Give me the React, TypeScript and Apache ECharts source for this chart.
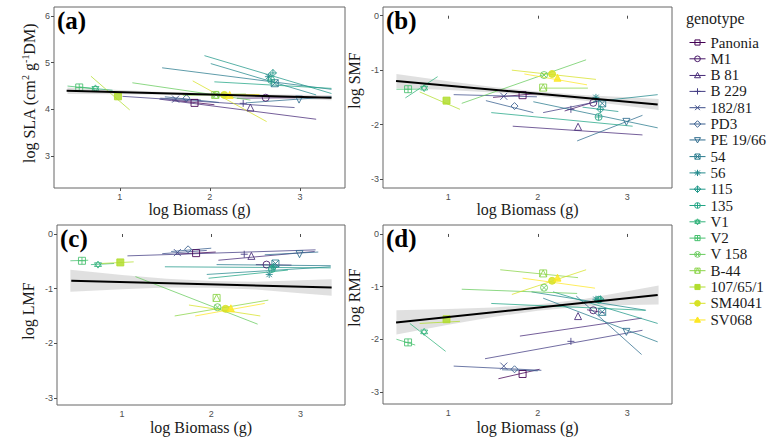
import React, { useEffect, useRef } from "react";
import * as echarts from "echarts";

// ---------- data ----------
const genotypes = ["Panonia", "M1", "B 81", "B 229", "182/81", "PD3", "PE 19/66", "54", "56", "115", "135", "V1", "V2", "V 158", "B-44", "107/65/1", "SM4041", "SV068"];
const biomassMean = [1.83, 2.62, 2.45, 2.37, 1.62, 1.74, 2.99, 2.72, 2.65, 2.7, 2.68, 0.73, 0.55, 2.07, 2.06, 0.98, 2.16, 2.22];

const slaMean = [4.14, 4.25, 4.04, 4.13, 4.22, 4.24, 4.21, 4.56, 4.7, 4.78, 4.63, 4.45, 4.47, 4.31, 4.31, 4.28, 4.31, 4.31];
const smfMean = [-1.46, -1.6, -2.04, -1.72, -1.48, -1.66, -1.95, -1.61, -1.5, -1.72, -1.86, -1.33, -1.35, -1.09, -1.32, -1.56, -1.07, -1.14];
const lmfMean = [-0.35, -0.56, -0.4, -0.37, -0.34, -0.28, -0.37, -0.54, -0.74, -0.6, -0.64, -0.56, -0.49, -1.34, -1.17, -0.52, -1.37, -1.36];
const rmfMean = [-2.66, -1.45, -1.56, -2.04, -2.51, -2.57, -1.86, -1.48, -1.24, -1.24, -1.25, -1.86, -2.06, -1.02, -0.75, -1.62, -0.89, -0.83];

// within-genotype fits: [x1, y1, x2, y2]
const slaSeg = [
  [1.58, 4.2, 2.05, 4.1], [2.3, 4.24, 2.95, 4.25], [1.44, 4.22, 3.18, 3.79], [1.03, 4.28, 2.94, 4.04],
  [1.45, 4.24, 1.9, 4.2], [1.5, 4.27, 2.1, 4.15], [2.4, 4.14, 3.35, 4.27], [1.47, 4.89, 3.35, 4.43],
  [2.01, 4.98, 3.18, 4.31], [1.94, 5.15, 3.35, 4.34], [2.05, 4.59, 3.35, 4.45], [0.55, 4.48, 0.92, 4.41],
  [0.42, 4.5, 0.72, 4.44], [1.14, 4.57, 2.45, 4.2], [1.7, 4.3, 2.4, 4.33], [0.68, 4.71, 1.11, 3.99],
  [1.81, 4.61, 2.63, 3.74], [2.0, 4.31, 2.55, 4.32],
];
const smfSeg = [
  [1.5, -1.5, 2.0, -1.43], [2.3, -1.75, 2.7, -1.55], [1.72, -2.03, 3.17, -2.19], [2.06, -1.78, 2.66, -1.58],
  [1.06, -1.45, 1.99, -1.49], [1.42, -1.56, 1.95, -1.78], [2.44, -2.3, 3.17, -1.83], [1.95, -1.58, 3.34, -2.06],
  [2.62, -1.58, 3.34, -1.45], [2.5, -1.68, 2.9, -1.76], [1.48, -1.78, 3.06, -2.03], [0.52, -1.51, 0.88, -1.12],
  [0.42, -1.35, 0.68, -1.35], [1.15, -1.61, 2.54, -0.81], [2.02, -1.33, 2.56, -1.33], [0.68, -1.4, 1.13, -1.72],
  [1.71, -1.0, 2.65, -1.17], [1.85, -1.07, 2.55, -1.27],
];
const lmfSeg = [
  [1.6, -0.37, 2.05, -0.33], [2.5, -0.56, 2.9, -0.57], [2.08, -0.48, 3.16, -0.32], [1.06, -0.4, 3.17, -0.29],
  [1.45, -0.36, 1.95, -0.3], [1.55, -0.32, 2.0, -0.26], [2.6, -0.38, 3.2, -0.33], [2.06, -0.56, 3.34, -0.58],
  [1.95, -0.74, 3.34, -0.6], [1.48, -0.6, 3.34, -0.62], [1.97, -0.81, 2.86, -0.66], [0.65, -0.56, 0.91, -0.54],
  [0.42, -0.49, 0.62, -0.48], [1.15, -0.78, 2.52, -1.65], [1.59, -1.5, 2.64, -1.21], [0.76, -0.54, 1.13, -0.51],
  [1.75, -1.3, 2.55, -1.5], [1.82, -1.5, 2.6, -1.27],
];
const rmfSeg = [
  [1.56, -2.75, 2.02, -2.57], [2.55, -1.44, 2.75, -1.5], [1.8, -1.94, 3.16, -1.6], [1.41, -2.37, 3.17, -1.83],
  [1.06, -2.51, 2.04, -2.59], [1.6, -2.58, 2.0, -2.6], [2.43, -1.18, 3.16, -2.29], [2.06, -1.22, 3.34, -2.05],
  [1.93, -1.1, 3.21, -1.45], [2.17, -1.1, 3.34, -1.7], [1.48, -1.32, 3.2, -1.45], [0.57, -1.7, 0.97, -2.23],
  [0.42, -2.0, 0.63, -2.11], [1.15, -1.05, 2.44, -1.13], [1.58, -0.68, 2.45, -0.83], [0.68, -1.7, 1.13, -1.66],
  [1.71, -1.15, 2.54, -0.68], [1.83, -0.84, 2.64, -1.03],
];

// overall fits and confidence bands
const slaFit = [[0.41, 4.4], [3.35, 4.25]];
const smfFit = [[0.416, -1.2], [3.34, -1.63]];
const lmfFit = [[0.43, -0.855], [3.35, -0.98]];
const rmfFit = [[0.416, -1.68], [3.34, -1.16]];

const bandX = [0.42, 1.0, 1.5, 2.0, 2.5, 3.0, 3.35];
const slaLo = [4.33, 4.325, 4.314, 4.294, 4.263, 4.223, 4.195];
const slaHi = [4.47, 4.415, 4.374, 4.344, 4.323, 4.313, 4.305];
const smfLo = [-1.33, -1.366, -1.409, -1.473, -1.556, -1.66, -1.731];
const smfHi = [-1.07, -1.206, -1.309, -1.393, -1.456, -1.5, -1.531];
const lmfLo = [-1.055, -1.009, -0.981, -0.982, -1.014, -1.085, -1.13];
const lmfHi = [-0.655, -0.749, -0.821, -0.862, -0.874, -0.845, -0.83];
const rmfLo = [-1.91, -1.726, -1.577, -1.458, -1.379, -1.35, -1.338];
const rmfHi = [-1.45, -1.426, -1.397, -1.338, -1.239, -1.09, -0.978];

const xTicks = [1, 2, 3];
const slaTicks = [3, 4, 5, 6];
const fracTicks = [-3, -2, -1, 0];

// ---------- style helpers ----------
const SERIF = "'Liberation Serif', 'Times New Roman', serif";
const SANS = "'Liberation Sans', Arial, sans-serif";

const viridisStops = ["#440154", "#482475", "#414487", "#355f8d", "#2a788e", "#21918c", "#22a884", "#44bf70", "#7ad151", "#bddf26", "#fde725"];
function hexToRgb(h: string) {
  return [parseInt(h.slice(1, 3), 16), parseInt(h.slice(3, 5), 16), parseInt(h.slice(5, 7), 16)];
}
function viridis(t: number) {
  const s = t * (viridisStops.length - 1);
  const i = Math.min(Math.floor(s), viridisStops.length - 2);
  const f = s - i;
  const a = hexToRgb(viridisStops[i]);
  const b = hexToRgb(viridisStops[i + 1]);
  const c = a.map((v, k) => Math.round(v + (b[k] - v) * f));
  return `rgb(${c[0]},${c[1]},${c[2]})`;
}
const colors = genotypes.map((_, i) => viridis(i / (genotypes.length - 1)));

function shapePath(k: number, cx: number, cy: number, r: number) {
  const p = (x: number, y: number) => `${(cx + x * r).toFixed(2)} ${(cy + y * r).toFixed(2)}`;
  const sq = `M${p(-0.9, -0.9)}L${p(0.9, -0.9)}L${p(0.9, 0.9)}L${p(-0.9, 0.9)}Z`;
  const ci = `M${p(1, 0)}A${r} ${r} 0 1 1 ${p(-1, 0)}A${r} ${r} 0 1 1 ${p(1, 0)}Z`;
  const tri = `M${p(0, -1.05)}L${p(1.05, 0.8)}L${p(-1.05, 0.8)}Z`;
  const trd = `M${p(0, 1.05)}L${p(1.05, -0.8)}L${p(-1.05, -0.8)}Z`;
  const plus = `M${p(0, -1.1)}L${p(0, 1.1)}M${p(-1.1, 0)}L${p(1.1, 0)}`;
  const plusIn = `M${p(0, -0.9)}L${p(0, 0.9)}M${p(-0.9, 0)}L${p(0.9, 0)}`;
  const cross = `M${p(-0.85, -0.85)}L${p(0.85, 0.85)}M${p(0.85, -0.85)}L${p(-0.85, 0.85)}`;
  const crossIn = `M${p(-0.7, -0.7)}L${p(0.7, 0.7)}M${p(0.7, -0.7)}L${p(-0.7, 0.7)}`;
  const sqCross = `M${p(-0.9, -0.9)}L${p(0.9, 0.9)}M${p(0.9, -0.9)}L${p(-0.9, 0.9)}`;
  const dia = `M${p(0, -1.15)}L${p(1.15, 0)}L${p(0, 1.15)}L${p(-1.15, 0)}Z`;
  const diaPlus = `M${p(0, -1.15)}L${p(0, 1.15)}M${p(-1.15, 0)}L${p(1.15, 0)}`;
  const star = `M${p(0, -1.05)}L${p(0.95, 0.55)}L${p(-0.95, 0.55)}ZM${p(0, 1.05)}L${p(0.95, -0.55)}L${p(-0.95, -0.55)}Z`;
  const sqTri = `M${p(-0.9, 0.9)}L${p(0, -0.9)}L${p(0.9, 0.9)}`;
  const list = [
    sq, ci, tri, plus, cross, dia, trd, sq + sqCross, plus + cross, dia + diaPlus,
    ci + plusIn, star, sq + plusIn, ci + crossIn, sq + sqTri, sq, ci, tri,
  ];
  return list[k];
}
const isFilled = (k: number) => k >= 15;

// ---------- chart ----------
export default function App() {
  const ref = useRef<HTMLDivElement>(null);

  useEffect(() => {
    if (!ref.current) return;
    const chart = echarts.init(ref.current, undefined, { renderer: "svg" });

    const panels = [
      { label: "(a)", grid: { left: 54, top: 7, width: 291, height: 181 }, yMin: 2.32, yMax: 6.19, yTicks: slaTicks,
        yName: "log SLA (cm{sup|2} g{sup|-1}DM)", mean: slaMean, seg: slaSeg, fit: slaFit, lo: slaLo, hi: slaHi,
        nameGap: 16, namePad: 8, xNameGap: 13 },
      { label: "(b)", grid: { left: 383, top: 7, width: 289, height: 181 }, yMin: -3.165, yMax: 0.16, yTicks: fracTicks,
        yName: "log SMF", mean: smfMean, seg: smfSeg, fit: smfFit, lo: smfLo, hi: smfHi,
        nameGap: 20, namePad: 34, xNameGap: 13 },
      { label: "(c)", grid: { left: 57, top: 225, width: 288, height: 180 }, yMin: -3.13, yMax: 0.165, yTicks: fracTicks,
        yName: "log LMF", mean: lmfMean, seg: lmfSeg, fit: lmfFit, lo: lmfLo, hi: lmfHi,
        nameGap: 20, namePad: 8, xNameGap: 14 },
      { label: "(d)", grid: { left: 383, top: 225, width: 289, height: 179 }, yMin: -3.23, yMax: 0.17, yTicks: fracTicks,
        yName: "log RMF", mean: rmfMean, seg: rmfSeg, fit: rmfFit, lo: rmfLo, hi: rmfHi,
        nameGap: 20, namePad: 34, xNameGap: 15 },
    ];

    const grids: any[] = [];
    const xAxes: any[] = [];
    const yAxes: any[] = [];
    const series: any[] = [];
    const graphics: any[] = [];

    const tickLabel = { fontFamily: SANS, fontSize: 9, color: "#4d4d4d", margin: 4 };
    const tick = { show: true, length: 3, lineStyle: { color: "#4d4d4d", width: 1 } };

    panels.forEach((pn, p) => {
      grids.push({ ...pn.grid, show: true, borderColor: "#666", borderWidth: 1, backgroundColor: "#fff" });
      xAxes.push({
        gridIndex: p, type: "value", min: 0.27, max: 3.5,
        axisLine: { show: false }, splitLine: { show: false },
        axisTick: { ...tick, customValues: xTicks },
        axisLabel: { ...tickLabel, customValues: xTicks },
        name: "log Biomass (g)", nameLocation: "middle", nameGap: pn.xNameGap, nameMoveOverlap: false,
        nameTextStyle: { fontFamily: SERIF, fontSize: 16, color: "#1a1a1a", verticalAlign: "top" },
      });
      yAxes.push({
        gridIndex: p, type: "value", min: pn.yMin, max: pn.yMax,
        axisLine: { show: false }, splitLine: { show: false },
        axisTick: { ...tick, customValues: pn.yTicks },
        axisLabel: { ...tickLabel, customValues: pn.yTicks },
        name: pn.yName, nameLocation: "middle", nameGap: pn.nameGap, nameRotate: 90, nameMoveOverlap: false,
        nameTextStyle: {
          fontFamily: SERIF, fontSize: 16, color: "#1a1a1a", lineHeight: 18,
          padding: [0, 0, 0, pn.namePad],
          rich: { sup: { fontFamily: SERIF, fontSize: 10, lineHeight: 10, verticalAlign: "top", color: "#1a1a1a" } },
        },
      });

      // confidence band
      series.push({
        type: "custom", xAxisIndex: p, yAxisIndex: p, silent: true, z: 1, clip: true,
        data: [0],
        renderItem: (_params: any, api: any) => {
          const top = bandX.map((x, i) => api.coord([x, pn.hi[i]]));
          const bot = bandX.map((x, i) => api.coord([x, pn.lo[i]])).reverse();
          return { type: "polygon", shape: { points: top.concat(bot) }, style: { fill: "#d6d6d6", opacity: 0.75 } };
        },
      });

      genotypes.forEach((g, i) => {
        const s = pn.seg[i];
        series.push({
          type: "line", name: g, xAxisIndex: p, yAxisIndex: p, z: 2, silent: true,
          data: [[s[0], s[1]], [s[2], s[3]]],
          symbol: "none",
          lineStyle: { color: colors[i], width: 1, opacity: 0.75 },
          itemStyle: { color: colors[i] },
        });
        series.push({
          type: "scatter", name: g, xAxisIndex: p, yAxisIndex: p, z: 3, silent: true,
          data: [[biomassMean[i], pn.mean[i]]],
          symbol: "path://" + shapePath(i, 0, 0, 5),
          symbolSize: 7,
          itemStyle: {
            color: isFilled(i) ? colors[i] : "rgba(0,0,0,0)",
            borderColor: colors[i], borderWidth: 1, opacity: 0.85,
          },
        });
      });

      // overall fit
      series.push({
        type: "line", xAxisIndex: p, yAxisIndex: p, z: 5, silent: true,
        data: pn.fit, symbol: "none",
        lineStyle: { color: "#000", width: 2 },
      });

      graphics.push({
        type: "text", left: pn.grid.left + 3, top: pn.grid.top + 1, z: 10,
        style: { text: pn.label, font: `bold 25px ${SERIF}`, fill: "#000" },
      });
    });

    graphics.push({
      type: "text", left: 686, top: 10,
      style: { text: "genotype", font: `16px ${SERIF}`, fill: "#1a1a1a" },
    });

    const legendData = genotypes.map((g, i) => ({
      name: g,
      icon: "path://M0 0L28 0" + shapePath(i, 14, 0, 5),
      itemStyle: {
        color: isFilled(i) ? colors[i] : "rgba(0,0,0,0)",
        borderColor: colors[i], borderWidth: 1,
      },
    }));

    chart.setOption({
      animation: false,
      textStyle: { fontFamily: SERIF },
      grid: grids,
      xAxis: xAxes,
      yAxis: yAxes,
      series,
      graphic: graphics,
      legend: {
        orient: "vertical", left: 684, top: 30,
        itemWidth: 16, itemHeight: 8, itemGap: 1.3,
        selectedMode: false,
        textStyle: { fontFamily: SERIF, fontSize: 15, lineHeight: 15, color: "#1a1a1a" },
        data: legendData,
      },
    });

    return () => chart.dispose();
  }, []);

  return (
    <div
      ref={ref}
      style={{ position: "absolute", left: 0, top: 0, width: 774, height: 439, background: "#fff" }}
    />
  );
}
